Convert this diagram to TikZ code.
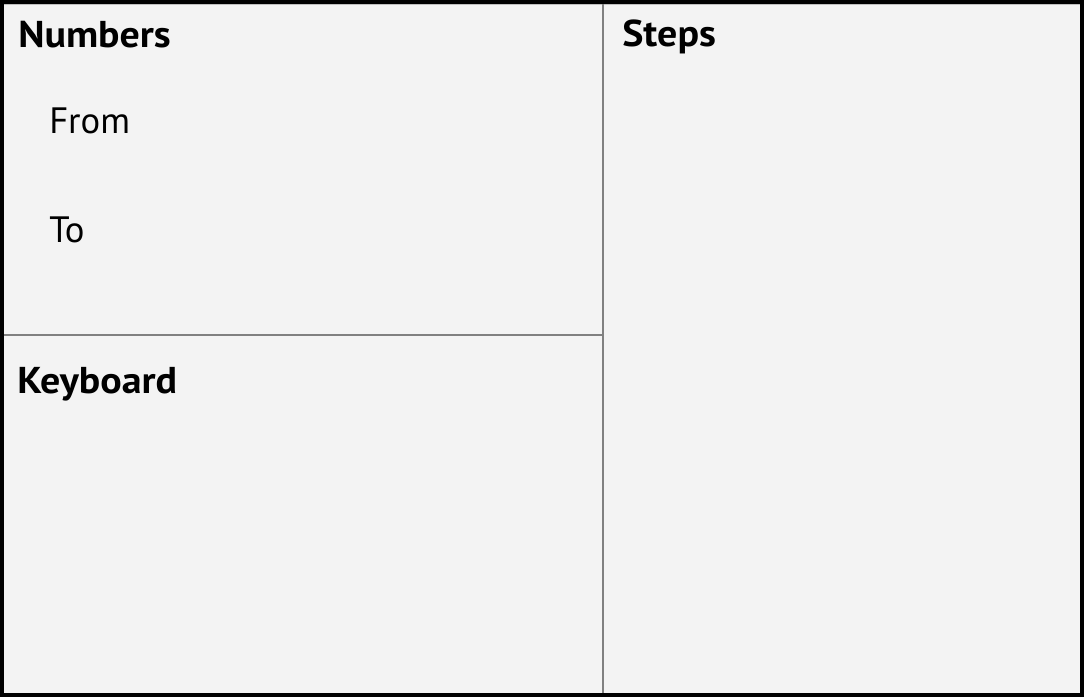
\documentclass[tikz,border=0pt]{standalone}
\usepackage{fontspec}
\setmainfont{PT Sans}
\definecolor{panebg}{HTML}{F3F3F3}
\definecolor{divider}{HTML}{808080}
\newcommand{\widebold}[1]{\scalebox{1.07}[1]{#1}}
\begin{document}
\begin{tikzpicture}[x=0.75pt,y=-0.75pt,
  title/.style={anchor=base west,inner sep=0pt,font=\fontsize{28}{30}\selectfont\bfseries},
  label/.style={anchor=base west,inner sep=0pt,font=\fontsize{27.5}{30}\selectfont},
  divline/.style={draw=divider,line width=1.5pt}]
\useasboundingbox (0,0) rectangle (1084,697);
\fill[panebg] (0,0) rectangle (1084,697);
\draw[black!25,line width=0.75pt] (4,4.5) -- (1080,4.5);
\coordinate (vtop) at (602.5,4);
\coordinate (vbot) at (602.5,693);
\coordinate (hl) at (4,335);
\coordinate (hr) at (602.5,335);
\draw[divline] (vtop) -- (vbot);
\draw[divline] (hl) -- (hr);
\draw[black,line width=3pt] (2,2) rectangle (1082,695);
\node[title] (numbers) at (18,47) {\widebold{Numbers}};
\node[label] (from) at (49,133) {From};
\node[label] (to) at (49,242) {To};
\node[title] (keyboard) at (17,393) {\widebold{Keyboard}};
\node[title] (steps) at (622,46) {\widebold{Steps}};
\end{tikzpicture}
\end{document}
